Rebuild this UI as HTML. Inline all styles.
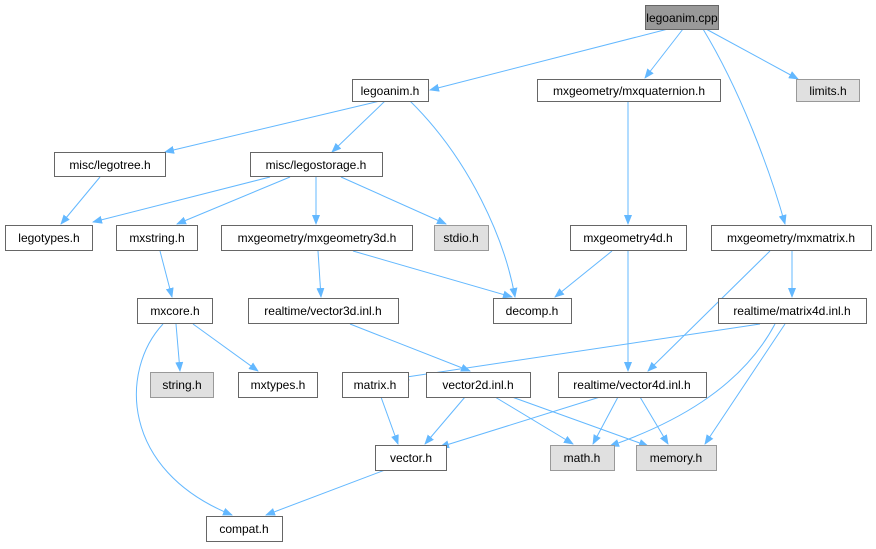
<!DOCTYPE html>
<html><head><meta charset="utf-8"><style>
html,body{margin:0;padding:0;background:#fff;}
svg{display:block;}
text{font-family:"Liberation Sans",Arial,sans-serif;font-size:12px;fill:#000;text-anchor:middle;}
.n{fill:#fff;stroke:#666;stroke-width:1;}
.g{fill:#e0e0e0;stroke:#999;stroke-width:1;}
.e{fill:none;stroke:#63b8ff;stroke-width:1;marker-end:url(#a);}
</style></head><body>
<svg width="876" height="549" viewBox="0 0 876 549">
<defs><marker id="a" markerWidth="10" markerHeight="8" refX="9" refY="4" orient="auto" markerUnits="userSpaceOnUse"><path d="M0,0 L10,4 L0,8 Z" fill="#63b8ff"/></marker></defs>
<g>
<path class="e" d="M668,29 L430,90"/>
<path class="e" d="M683,29 L645,78"/>
<path class="e" d="M706,29 L798,79"/>
<path class="e" d="M703,29 C740,90 770,170 785,224"/>
<path class="e" d="M380,101 L165,152"/>
<path class="e" d="M385,101 L332,152"/>
<path class="e" d="M410,101 C470,160 505,240 515,297"/>
<path class="e" d="M628,101 L628,224"/>
<path class="e" d="M100,177 L61,224"/>
<path class="e" d="M270,177 L93,222"/>
<path class="e" d="M290,177 L177,224"/>
<path class="e" d="M316,177 L316,224"/>
<path class="e" d="M341,177 L446,224"/>
<path class="e" d="M160,251 L172,297"/>
<path class="e" d="M318,251 L321,297"/>
<path class="e" d="M353,251 L512,297"/>
<path class="e" d="M612,251 L555,297"/>
<path class="e" d="M628,251 L628,371"/>
<path class="e" d="M770,251 L648,371"/>
<path class="e" d="M792,251 L792,297"/>
<path class="e" d="M176,324 L180,371"/>
<path class="e" d="M193,324 L258,371"/>
<path class="e" d="M163,324 C120,370 120,470 232,515"/>
<path class="e" d="M350,324 L470,371"/>
<path class="e" d="M760,324 L400,378"/>
<path class="e" d="M775,324 C740,390 670,425 610,446"/>
<path class="e" d="M785,324 L705,444"/>
<path class="e" d="M381,397 L398,444"/>
<path class="e" d="M465,397 L425,444"/>
<path class="e" d="M495,397 L573,444"/>
<path class="e" d="M512,397 L648,446"/>
<path class="e" d="M600,397 L440,447"/>
<path class="e" d="M618,397 L593,444"/>
<path class="e" d="M640,397 L668,444"/>
<path class="e" d="M385,470 L266,515"/>
</g>
<rect x="645.5" y="5.5" width="73" height="24" fill="#999" stroke="#666"/><text x="682" y="22">legoanim.cpp</text>
<rect class="n" x="352.5" y="79.5" width="76" height="22"/><text x="390" y="95">legoanim.h</text>
<rect class="n" x="537.5" y="79.5" width="183" height="22"/><text x="629" y="95">mxgeometry/mxquaternion.h</text>
<rect class="g" x="796.5" y="79.5" width="63" height="22"/><text x="828" y="95">limits.h</text>
<rect class="n" x="54.5" y="152.5" width="111" height="24"/><text x="110" y="169">misc/legotree.h</text>
<rect class="n" x="250.5" y="152.5" width="132" height="24"/><text x="316" y="169">misc/legostorage.h</text>
<rect class="n" x="5.5" y="225.5" width="87" height="25"/><text x="49" y="242">legotypes.h</text>
<rect class="n" x="116.5" y="225.5" width="81" height="25"/><text x="157" y="242">mxstring.h</text>
<rect class="n" x="221.5" y="225.5" width="191" height="25"/><text x="317" y="242">mxgeometry/mxgeometry3d.h</text>
<rect class="g" x="434.5" y="225.5" width="54" height="25"/><text x="461" y="242">stdio.h</text>
<rect class="n" x="570.5" y="225.5" width="116" height="25"/><text x="628" y="242">mxgeometry4d.h</text>
<rect class="n" x="711.5" y="225.5" width="160" height="25"/><text x="791" y="242">mxgeometry/mxmatrix.h</text>
<rect class="n" x="137.5" y="298.5" width="75" height="25"/><text x="175" y="315">mxcore.h</text>
<rect class="n" x="248.5" y="298.5" width="150" height="25"/><text x="323" y="315">realtime/vector3d.inl.h</text>
<rect class="n" x="493.5" y="298.5" width="78" height="25"/><text x="532" y="315">decomp.h</text>
<rect class="n" x="718.5" y="298.5" width="148" height="25"/><text x="792" y="315">realtime/matrix4d.inl.h</text>
<rect class="g" x="150.5" y="372.5" width="63" height="25"/><text x="182" y="389">string.h</text>
<rect class="n" x="238.5" y="372.5" width="79" height="25"/><text x="278" y="389">mxtypes.h</text>
<rect class="n" x="342.5" y="372.5" width="66" height="25"/><text x="375" y="389">matrix.h</text>
<rect class="n" x="426.5" y="372.5" width="104" height="25"/><text x="478" y="389">vector2d.inl.h</text>
<rect class="n" x="558.5" y="372.5" width="148" height="25"/><text x="632" y="389">realtime/vector4d.inl.h</text>
<rect class="n" x="375.5" y="445.5" width="71" height="25"/><text x="411" y="462">vector.h</text>
<rect class="g" x="550.5" y="445.5" width="64" height="25"/><text x="582" y="462">math.h</text>
<rect class="g" x="636.5" y="445.5" width="80" height="25"/><text x="676" y="462">memory.h</text>
<rect class="n" x="206.5" y="516.5" width="76" height="25"/><text x="244" y="533">compat.h</text>
</svg>
</body></html>
